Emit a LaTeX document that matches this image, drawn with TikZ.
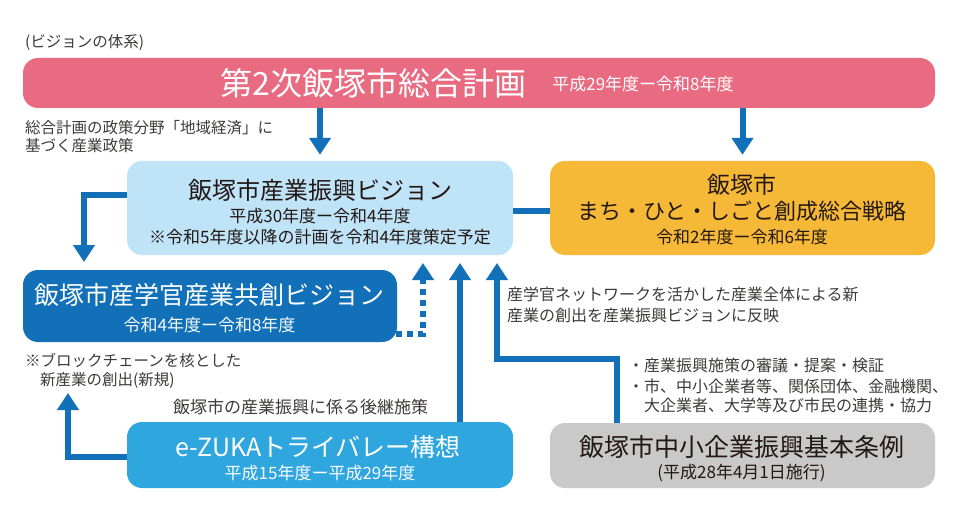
\documentclass[tikz,border=0pt]{standalone}
\usepackage{fontspec}
\setmainfont{Noto Sans CJK JP}
\usepackage{xcolor}
\usetikzlibrary{arrows.meta}
\definecolor{pinkbar}{HTML}{E96B81}
\definecolor{paleblue}{HTML}{BFE3F7}
\definecolor{gold}{HTML}{F6B937}
\definecolor{deepblue}{HTML}{1170B7}
\definecolor{skyblue}{HTML}{2FA6DE}
\definecolor{boxgray}{HTML}{C9C9C9}
\definecolor{inkgray}{HTML}{3E3A39}
\definecolor{ink}{HTML}{231815}
\newcommand{\fsz}[1]{\fontsize{#1}{#1}\selectfont}

\begin{document}
\begin{tikzpicture}[x=1pt,y=-1pt,
  box/.style={rounded corners=15pt, inner sep=0pt},
  txt/.style={inner sep=0pt, text=ink},
  note/.style={inner sep=0pt, anchor=west, text=inkgray, font=\fsz{15.5}},
  arr/.style={line width=6pt, draw=deepblue, -{Triangle[width=21pt,length=17pt]}}]
\useasboundingbox (0,0) rectangle (957,513);

\node[note] (title) at (25,43) {(ビジョンの体系)};

\node[box, fill=pinkbar, minimum width=912pt, minimum height=50pt] (plan) at (479,83) {};
\node[txt, text=white, font=\fsz{32}] (planname) at (373.5,83) {第2次飯塚市総合計画};
\node[txt, text=white, font=\fsz{17}] (planterm) at (643,84) {平成29年度ー令和8年度};

\node[note] (policy1) at (25,128) {総合計画の政策分野「地域経済」に};
\node[note] (policy2) at (25,146) {基づく産業政策};

\node[box, fill=paleblue, minimum width=386pt, minimum height=94pt] (vision) at (320,208) {};
\node[txt, font=\fsz{24}] (visionname) at (320,190) {飯塚市産業振興ビジョン};
\node[txt, font=\fsz{17}] (visionterm) at (320,216) {平成30年度ー令和4年度};
\node[txt, font=\fsz{17}] (visionnote) at (320,237) {※令和5年度以降の計画を令和4年度策定予定};

\node[box, fill=gold, minimum width=385pt, minimum height=94pt] (strategy) at (742.5,208) {};
\node[txt, font=\fsz{23}] (strategycity) at (742,185) {飯塚市};
\node[txt, font=\fsz{22}] (strategyname) at (742,211) {まち・ひと・しごと創成総合戦略};
\node[txt, font=\fsz{17}] (strategyterm) at (742,237) {令和2年度ー令和6年度};

\node[box, fill=deepblue, minimum width=374pt, minimum height=72pt] (cocreate) at (210,306) {};
\node[txt, text=white, font=\fsz{25}] (cocreatename) at (209,295) {飯塚市産学官産業共創ビジョン};
\node[txt, text=white!85!paleblue, font=\fsz{17}] (cocreateterm) at (209.5,325) {令和4年度ー令和8年度};

\node[note, font=\fsz{16}] (network1) at (507,294) {産学官ネットワークを活かした産業全体による新};
\node[note, font=\fsz{16}] (network2) at (507,315) {産業の創出を産業振興ビジョンに反映};
\node[note] (chain1) at (25,360) {※ブロックチェーンを核とした};
\node[note] (chain2) at (40,380) {新産業の創出(新規)};
\node[note, font=\fsz{17}] (successor) at (173,407) {飯塚市の産業振興に係る後継施策};
\node[note, font=\fsz{16}] (duty1) at (628,365) {・産業振興施策の審議・提案・検証};
\node[note, font=\fsz{16}] (duty2) at (628,386) {・市、中小企業者等、関係団体、金融機関、};
\node[note, font=\fsz{16}] (duty3) at (644,405) {大企業者、大学等及び市民の連携・協力};

\node[box, fill=skyblue, minimum width=386pt, minimum height=66pt] (ezuka) at (320,455) {};
\node[txt, text=white, font=\fsz{25}] (ezukaname) at (318,447) {e-ZUKAトライバレー構想};
\node[txt, text=white!90!paleblue, font=\fsz{17}] (ezukaterm) at (320,473) {平成15年度ー平成29年度};

\node[box, fill=boxgray, minimum width=385pt, minimum height=65pt] (jorei) at (742.5,455.5) {};
\node[txt, font=\fsz{25}] (joreiname) at (741.5,447) {飯塚市中小企業振興基本条例};
\node[txt, font=\fsz{17}] (joreidate) at (741.5,473) {(平成28年4月1日施行)};

\coordinate (cocreatetip) at (84,262);
\coordinate (dottip) at (423,263);
\coordinate (eztip) at (460,263);
\coordinate (newtip) at (68,393);
\coordinate (netturn) at (616.5,359);
\coordinate (nettip) at (497,263);

\draw[arr] (plan.south -| vision) -- ([yshift=6pt]vision.north);
\draw[arr] (plan.south -| strategy) -- ([yshift=6pt]strategy.north);
\draw[line width=6pt, deepblue] ([yshift=-3pt]vision.east) -- ([yshift=-3pt]strategy.west);
\draw[arr] ([yshift=13pt]vision.west) -| (cocreatetip);
\draw[arr, dash pattern=on 6pt off 5pt] ([shift={(-1pt,-28pt)}]cocreate.east) -| (dottip);
\draw[arr] (ezuka.north -| eztip) -- (eztip);
\draw[arr] ([yshift=-2pt]ezuka.west) -| (newtip);
\draw[arr] (jorei.north -| netturn) -- (netturn) -| (nettip);
\end{tikzpicture}
\end{document}
